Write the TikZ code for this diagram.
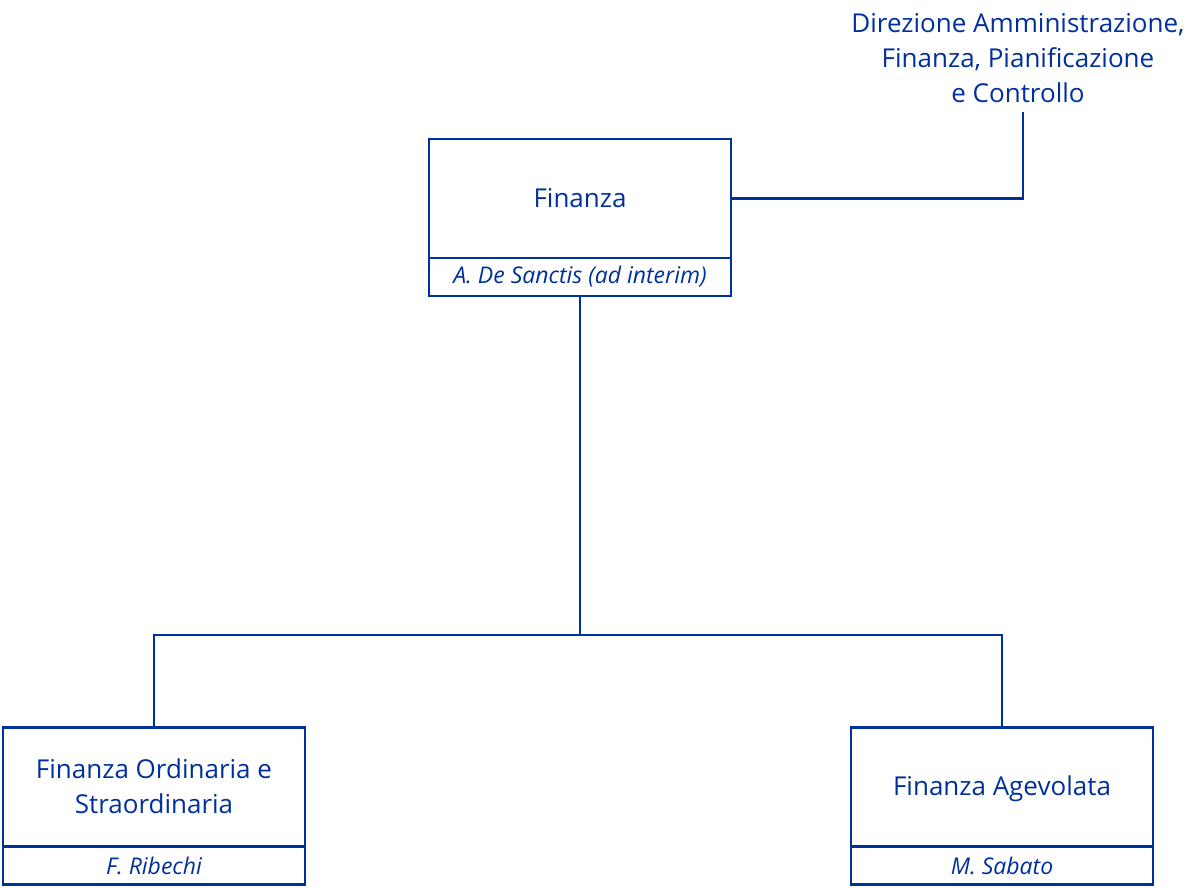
\documentclass[tikz,border=0pt]{standalone}
\usepackage{fontspec}
\setmainfont{Open Sans}
\usepackage{xcolor}
\usepackage{tikz}
\usetikzlibrary{positioning}

\definecolor{orgblue}{RGB}{0,48,155}

\begin{document}
\begin{tikzpicture}[x=1pt, y=-1pt, line width=2.8pt, color=orgblue]
    % 1. Cornice e stili
    \useasboundingbox (0,0) rectangle (1192,888);
    \tikzset{
        unitbox/.style={draw, rectangle, minimum width=302pt, minimum height=119pt,
            inner sep=0pt, outer sep=0pt, align=center, text depth=2pt,
            font=\fontsize{26}{35}\selectfont},
        namebox/.style={draw, rectangle, minimum width=302pt, minimum height=38pt,
            inner sep=0pt, outer sep=0pt, font=\fontsize{23}{26}\selectfont\itshape},
    }

    % 2. Unita' organizzative
    \node[unitbox] (fin) at (580,198.5) {Finanza};
    \node[namebox, below=0pt of fin] (finname) {A. De Sanctis (ad interim)};
    \node[unitbox] (ord) at (154,787) {Finanza Ordinaria e\\Straordinaria};
    \node[namebox, below=0pt of ord] (ordname) {F. Ribechi};
    \node[unitbox] (age) at (1002,787) {Finanza Agevolata};
    \node[namebox, below=0pt of age] (agename) {M. Sabato};

    % 3. Direzione di riferimento
    \node[align=center, inner sep=0pt, font=\fontsize{26}{35}\selectfont] (dir) at (1018,58)
        {Direzione Amministrazione,\\Finanza, Pianificazione\\e Controllo};
    \coordinate (dirfoot) at (1023,112);

    % 4. Collegamenti
    \draw (fin.east) -| (dirfoot);
    \draw (finname.south) -- ++(0,339) coordinate (mid);
    \draw (ord.north) |- (mid) -| (age.north);
\end{tikzpicture}
\end{document}
